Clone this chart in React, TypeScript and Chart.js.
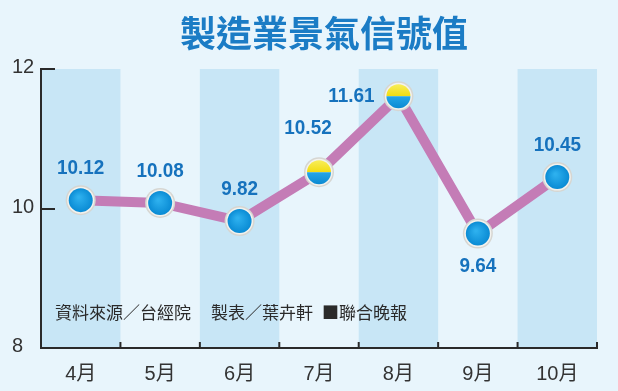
import React, { useEffect, useRef } from "react";
import { Chart, registerables } from "chart.js";

Chart.register(...registerables);

const TITLE = "製造業景氣信號值";
const categories = ["4月", "5月", "6月", "7月", "8月", "9月", "10月"];
const values = [10.12, 10.08, 9.82, 10.52, 11.61, 9.64, 10.45];
const valueLabels = ["10.12", "10.08", "9.82", "10.52", "11.61", "9.64", "10.45"];
// point colour style: "blue" or "yellow" (yellow/blue split)
const pointKinds = ["blue", "blue", "blue", "yellow", "yellow", "blue", "blue"];
// label placement relative to point
const labelPlacement = ["top", "top", "top", "topLeft", "left", "bottom", "top"];
const yTicks = [8, 10, 12];
const yTickLabels = ["8", "10", "12"];
const sourceParts = ["資料來源／台經院", "製表／葉卉軒", "■聯合晚報"];

const BG = "#e8f5fc";
const BAND = "#c8e6f6";
const AXIS = "#2a2a2a";
const LABEL_BLUE = "#1672bd";

const decorPlugin = {
  id: "decor",
  beforeDraw(chart: any) {
    const { ctx, chartArea, width, height } = chart;
    const x = chart.scales.x;
    ctx.save();
    ctx.fillStyle = BG;
    ctx.fillRect(0, 0, width, height);
    const step = (chartArea.right - chartArea.left) / categories.length;
    ctx.fillStyle = BAND;
    categories.forEach((_c, i) => {
      if (i % 2 === 0) {
        const cx = x.getPixelForValue(i);
        ctx.fillRect(cx - step / 2, chartArea.top, step, chartArea.bottom - chartArea.top);
      }
    });
    ctx.fillStyle = "#1b7cc5";
    ctx.font = "bold 36px 'Noto Sans CJK TC', sans-serif";
    ctx.textAlign = "center";
    ctx.textBaseline = "middle";
    ctx.fillText(TITLE, 324, 33);
    ctx.restore();
  },
  beforeDatasetsDraw(chart: any) {
    const { ctx, chartArea } = chart;
    const x = chart.scales.x;
    const y = chart.scales.y;
    const step = (chartArea.right - chartArea.left) / categories.length;
    ctx.save();
    ctx.strokeStyle = AXIS;
    ctx.lineWidth = 2;
    ctx.lineCap = "butt";
    ctx.beginPath();
    ctx.moveTo(chartArea.left, chartArea.top);
    ctx.lineTo(chartArea.left, chartArea.bottom);
    ctx.stroke();
    ctx.fillStyle = "#333";
    ctx.font = "20px 'Liberation Sans', Arial, sans-serif";
    ctx.textAlign = "left";
    ctx.textBaseline = "middle";
    yTicks.forEach((v, i) => {
      const py = Math.round(y.getPixelForValue(v));
      if (v !== y.min) {
        ctx.beginPath();
        ctx.moveTo(chartArea.left - 1, py);
        ctx.lineTo(chartArea.left + 14, py);
        ctx.stroke();
      }
      ctx.fillText(yTickLabels[i], 12, py - 2);
    });
    ctx.beginPath();
    ctx.moveTo(chartArea.left - 1, chartArea.bottom);
    ctx.lineTo(chartArea.right + 1, chartArea.bottom);
    ctx.stroke();
    for (let i = 0; i < categories.length; i++) {
      const bx = x.getPixelForValue(i) + step / 2;
      ctx.beginPath();
      ctx.moveTo(bx, chartArea.bottom);
      ctx.lineTo(bx, chartArea.bottom - 6);
      ctx.stroke();
    }
    ctx.fillStyle = "#2a2a2a";
    ctx.font = "17px 'Noto Sans CJK TC', sans-serif";
    ctx.textAlign = "left";
    ctx.textBaseline = "middle";
    ctx.fillText(sourceParts[0], 55, 313);
    ctx.fillText(sourceParts[1], 211, 313);
    ctx.fillText(sourceParts[2], 322, 313);
    ctx.restore();
  },
  afterDatasetsDraw(chart: any) {
    const { ctx } = chart;
    const meta = chart.getDatasetMeta(0);
    ctx.save();
    meta.data.forEach((pt: any, i: number) => {
      const px = pt.x;
      const py = pt.y;
      const r = 13.5;
      ctx.beginPath();
      ctx.arc(px, py, r + 1.5, 0, Math.PI * 2);
      ctx.fillStyle = "#d6d6d2";
      ctx.fill();
      ctx.beginPath();
      ctx.arc(px, py, r, 0, Math.PI * 2);
      ctx.fillStyle = "#f2f2ee";
      ctx.fill();
      const ir = r - 1.5;
      if (pointKinds[i] === "blue") {
        const g = ctx.createRadialGradient(px - 2, py - 3, 1, px, py, ir);
        g.addColorStop(0, "#2db0ee");
        g.addColorStop(1, "#0a8bd4");
        ctx.beginPath();
        ctx.arc(px, py, ir, 0, Math.PI * 2);
        ctx.fillStyle = g;
        ctx.fill();
      } else {
        const gy = ctx.createLinearGradient(px, py - ir, px, py);
        gy.addColorStop(0, "#f8ee5a");
        gy.addColorStop(1, "#f2dc10");
        ctx.beginPath();
        ctx.arc(px, py, ir, Math.PI, Math.PI * 2);
        ctx.closePath();
        ctx.fillStyle = gy;
        ctx.fill();
        const gb = ctx.createLinearGradient(px, py, px, py + ir);
        gb.addColorStop(0, "#24a6e8");
        gb.addColorStop(1, "#0c8ad2");
        ctx.beginPath();
        ctx.arc(px, py, ir, 0, Math.PI);
        ctx.closePath();
        ctx.fillStyle = gb;
        ctx.fill();
      }
      ctx.fillStyle = LABEL_BLUE;
      ctx.font = "bold 21px 'Liberation Sans', Arial, sans-serif";
      ctx.textBaseline = "middle";
      const place = labelPlacement[i];
      const txt = valueLabels[i];
      let lx = px;
      let ly = py;
      let align: CanvasTextAlign = "center";
      if (place === "top") {
        ly = py - 32;
      } else if (place === "topLeft") {
        lx = px - 11;
        ly = py - 44;
      } else if (place === "left") {
        lx = px - 24;
        align = "right";
      } else if (place === "bottom") {
        ly = py + 33;
      }
      ctx.save();
      ctx.translate(lx, ly);
      ctx.scale(0.9, 1);
      ctx.textAlign = align;
      ctx.fillText(txt, 0, 0);
      ctx.restore();
    });
    ctx.restore();
  },
};

export default function App() {
  const ref = useRef<HTMLCanvasElement | null>(null);
  useEffect(() => {
    document.body.style.margin = "0";
    const canvas = ref.current;
    if (!canvas) return;
    const chart = new Chart(canvas, {
      type: "line",
      data: {
        labels: categories,
        datasets: [
          {
            data: values,
            borderColor: "#c47cb6",
            borderWidth: 10,
            pointRadius: 0,
            tension: 0,
            clip: false as any,
          },
        ],
      },
      options: {
        responsive: false,
        animation: false,
        devicePixelRatio: 1,
        layout: { padding: { top: 69, right: 21, left: 0, bottom: 0 } },
        plugins: {
          legend: { display: false },
          tooltip: { enabled: false },
          title: { display: false },
        },
        scales: {
          x: {
            type: "category",
            offset: true,
            grid: { display: false, drawTicks: false },
            border: { display: false },
            ticks: {
              color: "#333",
              font: { size: 20, family: "'Liberation Sans', 'Noto Sans CJK TC', sans-serif" },
              padding: 14,
            },
            afterFit: (s: any) => {
              s.height = 43;
            },
          },
          y: {
            min: 8,
            max: 12,
            afterBuildTicks: (s: any) => {
              s.ticks = yTicks.map((v) => ({ value: v }));
            },
            grid: { display: false, drawTicks: false },
            border: { display: false },
            ticks: { display: false },
            afterFit: (s: any) => {
              s.width = 41;
            },
          },
        },
      },
      plugins: [decorPlugin],
    });
    return () => chart.destroy();
  }, []);
  return <canvas ref={ref} width={618} height={391} style={{ display: "block" }} />;
}
